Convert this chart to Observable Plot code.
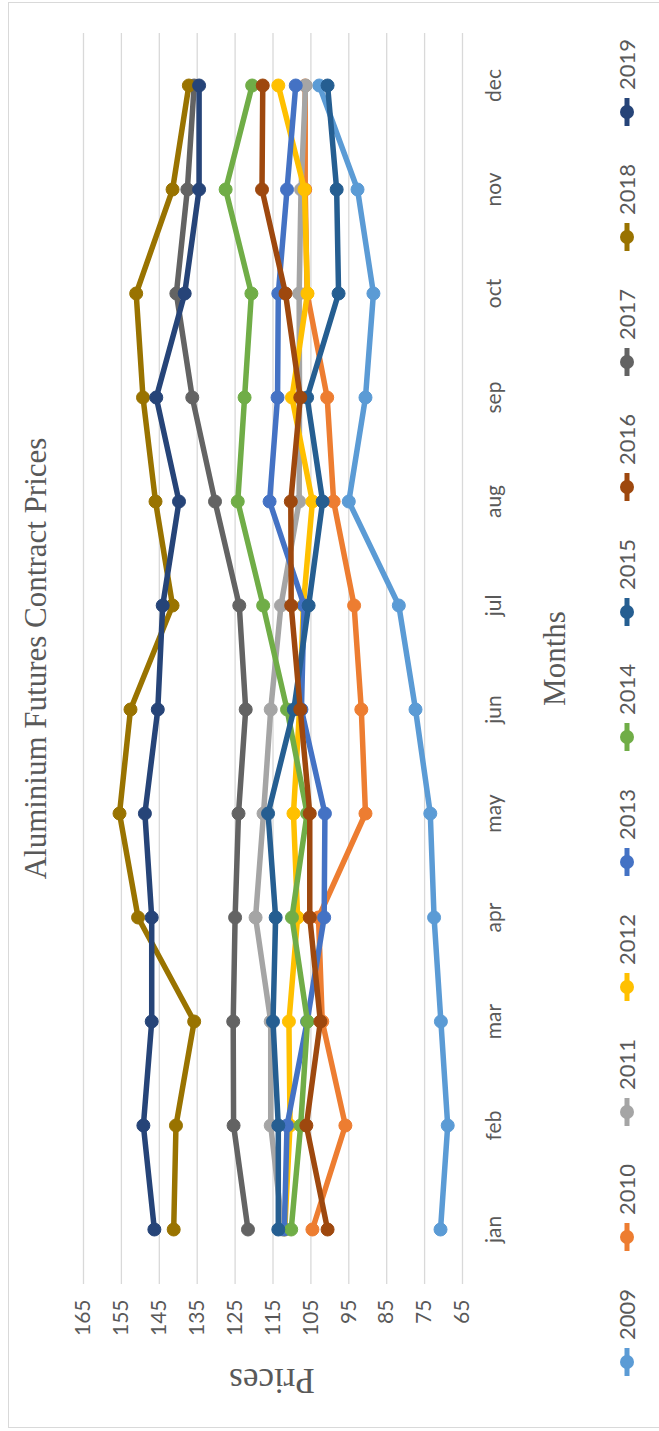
<!DOCTYPE html>
<html>
<head>
<meta charset="utf-8">
<script src="https://cdn.jsdelivr.net/npm/d3@7"></script>
<script src="https://cdn.jsdelivr.net/npm/@observablehq/plot@0.6"></script>
<style>
  html, body { margin: 0; padding: 0; background: #fff; overflow: hidden; }
  #page { position: relative; width: 659px; height: 1431px; overflow: hidden; background: #fff; }
  /* the chart is laid out landscape and turned a quarter turn counter-clockwise */
  #chart { position: absolute; left: 0; top: 0; width: 1431px; height: 659px;
           transform-origin: 0 0; transform: translate(0, 1431px) rotate(-90deg); background: #fff; }
  #chart > * { position: absolute; }
  #frame { left: 3px; top: 8px; width: 1424px; height: 700px; border: 1.5px solid #d9d9d9; }
  .serif { font-family: "Liberation Serif", "DejaVu Serif", serif; color: #595959; white-space: nowrap; line-height: 1; }
  #title { left: 147px; width: 1251px; top: 20px; text-align: center; font-size: 31px; }
  #xtitle { left: 147px; width: 1251px; top: 539px; text-align: center; font-size: 31px; }
  #ytitle { left: 51px; top: 272px; transform: translate(-50%, -50%) rotate(-90deg); font-size: 35px; }
  #legend { left: 0; top: 607px; }
</style>
</head>
<body>
<div id="page">
  <div id="chart">
    <div id="frame"></div>
    <div id="plot"></div>
    <div id="title" class="serif">Aluminium Futures Contract Prices</div>
    <div id="xtitle" class="serif">Months</div>
    <div id="ytitle" class="serif">Prices</div>
    <svg id="legend" width="1431" height="40"></svg>
  </div>
</div>
<script>
const months = ["jan", "feb", "mar", "apr", "may", "jun", "jul", "aug", "sep", "oct", "nov", "dec"];
const years = [2009, 2010, 2011, 2012, 2013, 2014, 2015, 2016, 2017, 2018, 2019];
const colors = ["#5B9BD5", "#ED7D31", "#A5A5A5", "#FFC000", "#4472C4", "#70AD47",
                "#255E91", "#9E480E", "#636363", "#997300", "#264478"];
const priceTicks = [65, 75, 85, 95, 105, 115, 125, 135, 145, 155, 165];

// monthly contract prices, one array per year (jan .. dec)
const p2009 = [70.8, 68.9, 70.7, 72.5, 73.5, 77.4, 81.8, 95.0, 90.6, 88.5, 92.7, 102.8];
const p2010 = [104.6, 95.9, 102.0, 103.0, 90.6, 91.7, 93.6, 99.0, 100.7, 106.0, 106.5, 106.5];
const p2011 = [112.5, 115.6, 115.6, 119.6, 117.5, 115.6, 112.9, 108.1, 108.0, 108.1, 107.6, 106.4];
const p2012 = [111.9, 110.5, 110.8, 108.5, 109.6, 108.0, 107.0, 104.6, 110.0, 105.9, 106.7, 113.6];
const p2013 = [112.0, 111.3, 106.0, 101.5, 101.3, 107.5, 106.8, 115.9, 113.8, 113.6, 111.3, 109.0];
const p2014 = [110.2, 107.7, 105.9, 110.0, 106.0, 111.3, 117.6, 124.3, 122.5, 120.7, 127.5, 120.5];
const p2015 = [113.6, 113.6, 115.0, 114.3, 116.3, 109.5, 105.6, 101.9, 106.0, 97.7, 98.2, 100.6];
const p2016 = [100.6, 106.2, 102.5, 105.3, 105.3, 107.8, 110.2, 110.3, 107.8, 111.7, 117.9, 117.7];
const p2017 = [121.6, 125.4, 125.5, 125.0, 124.1, 122.2, 123.9, 130.3, 136.3, 140.5, 137.6, 135.8];
const p2018 = [141.2, 140.6, 135.8, 150.6, 155.5, 152.6, 141.5, 146.0, 149.3, 151.1, 141.5, 137.2];
const p2019 = [146.3, 149.2, 147.0, 147.0, 148.8, 145.4, 144.1, 139.8, 145.8, 138.3, 134.5, 134.5];

const series = [p2009, p2010, p2011, p2012, p2013, p2014, p2015, p2016, p2017, p2018, p2019];

const table = years.flatMap((year, i) =>
  series[i].map((price, j) => ({year, month: months[j], price})));

const tickFont = "Lato, 'Open Sans', 'Liberation Sans', sans-serif";

// each year's line is followed by its own markers so later years sit on top
const seriesMarks = years.flatMap((year, i) => {
  const rows = table.filter(d => d.year === year);
  return [
    Plot.line(rows, {x: "month", y: "price", stroke: colors[i], strokeWidth: 5.5, strokeLinejoin: "round"}),
    Plot.dot(rows, {x: "month", y: "price", r: 6.5, fill: colors[i], stroke: colors[i], strokeWidth: 1})
  ];
});

const chart = Plot.plot({
  width: 1431,
  height: 659,
  marginLeft: 147,
  marginRight: 33,
  marginTop: 83,
  marginBottom: 197,
  x: {type: "point", domain: months, padding: 0.5},
  y: {domain: [65, 165]},
  style: {fontFamily: tickFont, color: "#595959", background: "transparent", overflow: "visible"},
  marks: [
    Plot.gridY(priceTicks, {stroke: "#d9d9d9", strokeOpacity: 1, strokeWidth: 1.3}),
    Plot.axisY(priceTicks, {tickSize: 0, tickPadding: 16, fontSize: 21, label: null}),
    Plot.axisX({tickSize: 0, tickPadding: 24, fontSize: 21, label: null}),
    ...seriesMarks
  ]
});
document.getElementById("plot").appendChild(chart);

// legend row along the bottom edge
const legend = d3.select("#legend");
const item = legend.selectAll("g").data(years).join("g")
  .attr("transform", (d, i) => `translate(${69 + 125 * i},20)`);
item.append("line").attr("x1", -14).attr("x2", 14)
  .attr("stroke", (d, i) => colors[i]).attr("stroke-width", 5);
item.append("circle").attr("r", 7).attr("fill", (d, i) => colors[i]);
item.append("text").attr("x", 22).attr("dy", "0.35em")
  .attr("font-family", tickFont).attr("font-size", 22).attr("fill", "#595959")
  .text(d => d);
</script>
</body>
</html>
